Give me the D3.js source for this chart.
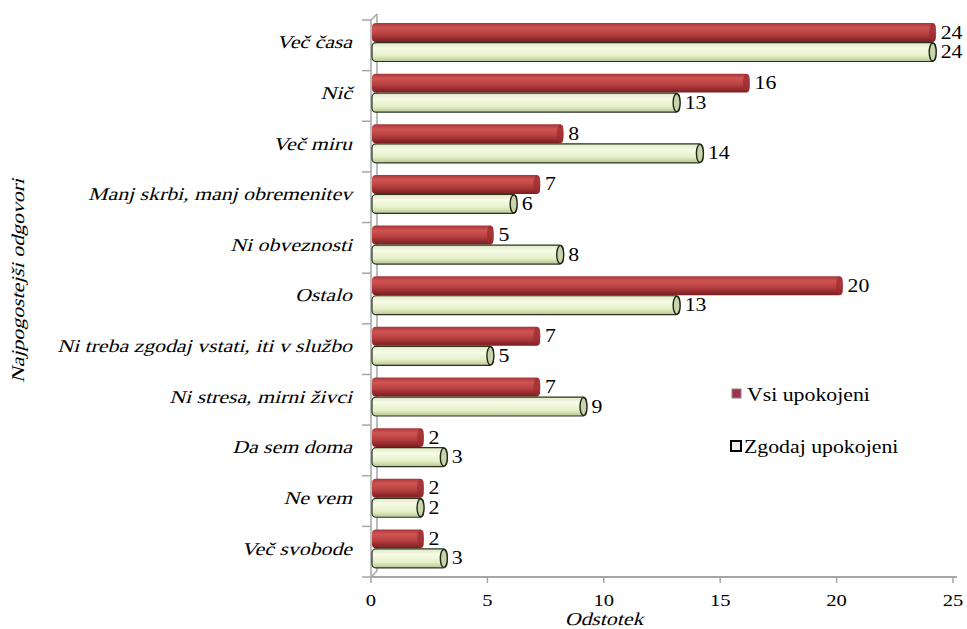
<!DOCTYPE html>
<html>
<head>
<meta charset="utf-8">
<script src="https://cdn.jsdelivr.net/npm/d3@7"></script>
</head>
<body style="margin:0">
<svg id="chart" width="967" height="629"></svg>
<script>
const categories = ['Več časa', 'Nič', 'Več miru', 'Manj skrbi, manj obremenitev', 'Ni obveznosti',
  'Ostalo', 'Ni treba zgodaj vstati, iti v službo', 'Ni stresa, mirni živci', 'Da sem doma',
  'Ne vem', 'Več svobode']
const vsi = [24, 16, 8, 7, 5, 20, 7, 7, 2, 2, 2]
const zgodaj = [24, 13, 14, 6, 8, 13, 5, 9, 3, 2, 3]
const seriesNames = ['Vsi upokojeni', 'Zgodaj upokojeni']
const xTicks = [0, 5, 10, 15, 20, 25]

const svg = d3.select('#chart')
const font = 'Liberation Serif'
const depth = 6

const x = d3.scaleLinear().domain([0, 25]).range([371, 953])
const y = d3.scaleBand().domain(categories).range([20, 577])
  .paddingInner(0.24).paddingOuter(0.12).align(0.25)
const ys = d3.scaleBand().domain(seriesNames).range([0, y.bandwidth()]).paddingInner(0.03)

// the source text is a bit wider than plain Times, measure once and stretch
const probe = svg.append('text').attr('font-family', font).attr('font-size', 18)
  .text('Manj skrbi, manj obremenitev')
let sx = 264 / probe.node().getComputedTextLength()
if (!isFinite(sx)) sx = 1.15
sx = Math.max(1, Math.min(1.3, sx))
probe.remove()

// italic is faked with a skew of the regular face
function txt(px, py, str, opts) {
  opts = opts || {}
  let tr = `translate(${px},${py})`
  if (opts.rotate) tr += ` rotate(${opts.rotate})`
  tr += ` scale(${sx},1)`
  if (opts.italic) tr += ' skewX(-13)'
  return svg.append('text').attr('font-family', font).attr('fill', '#000')
    .attr('font-size', opts.size || 18).attr('text-anchor', opts.anchor || 'start')
    .attr('transform', tr).text(str)
}

const defs = svg.append('defs')
function grad(id, stops) {
  const g = defs.append('linearGradient').attr('id', id)
    .attr('x1', 0).attr('y1', 0).attr('x2', 0).attr('y2', 1)
  stops.forEach(s => g.append('stop').attr('offset', s[0]).attr('stop-color', s[1]))
}
grad('red', [[0, '#a8353a'], [0.25, '#cf5552'], [0.6, '#b53f3f'], [1, '#7a1c20']])
grad('green', [[0, '#dfe9bf'], [0.3, '#f7fbe8'], [0.7, '#e6f0c6'], [1, '#b7c594']])

// axes (3d style)
const axisCol = '#a6a6a6'
const yTop = 20, yBot = 577
svg.append('line').attr('x1', x(0)).attr('x2', x(0)).attr('y1', yTop).attr('y2', yBot)
  .attr('stroke', axisCol).attr('stroke-width', 1.5)
svg.append('line').attr('x1', x(0) + depth).attr('x2', x(0) + depth).attr('y1', yTop - depth).attr('y2', yBot - depth)
  .attr('stroke', axisCol).attr('stroke-width', 1.5)
svg.append('line').attr('x1', x(0)).attr('x2', x(0) + depth).attr('y1', yTop).attr('y2', yTop - depth)
  .attr('stroke', axisCol).attr('stroke-width', 1.5)
svg.append('line').attr('x1', x(0)).attr('x2', x(0) + depth).attr('y1', yBot).attr('y2', yBot - depth)
  .attr('stroke', axisCol).attr('stroke-width', 1.5)
svg.append('line').attr('x1', x(0)).attr('x2', x(25) + 4).attr('y1', yBot).attr('y2', yBot)
  .attr('stroke', axisCol).attr('stroke-width', 2)

d3.range(categories.length + 1).forEach(i => {
  const ty = yTop + i * y.step()
  svg.append('line').attr('x1', x(0) - 9).attr('x2', x(0)).attr('y1', ty).attr('y2', ty)
    .attr('stroke', axisCol).attr('stroke-width', 1.5)
})

svg.selectAll('.xtick').data(xTicks).enter().append('line')
  .attr('x1', d => x(d)).attr('x2', d => x(d)).attr('y1', yBot).attr('y2', yBot + 6)
  .attr('stroke', axisCol).attr('stroke-width', 1.5)
xTicks.forEach(d => txt(x(d), 606, d, { anchor: 'middle', size: 17 }))

txt(604, 625, 'Odstotek', { anchor: 'middle', italic: true })
txt(24, 281, 'Najpogostejši odgovori', { anchor: 'middle', italic: true, rotate: -90 })

categories.forEach(c => {
  txt(352, y(c) + y.bandwidth() / 2 + 6, c, { anchor: 'end', italic: true })
})

// bars
const rows = categories.map((c, i) => ({ c, vals: [vsi[i], zgodaj[i]] }))
const bh = ys.bandwidth()

rows.forEach(r => {
  r.vals.forEach((v, k) => {
    const s = seriesNames[k]
    const by = y(r.c) + ys(s)
    const x0 = x(0) + 1, x1 = x(v) + depth
    const g = svg.append('g')
    if (k === 0) {
      g.append('rect').attr('x', x0).attr('y', by).attr('width', x1 - x0).attr('height', bh)
        .attr('rx', 4).attr('fill', 'url(#red)')
      g.append('ellipse').attr('cx', x1 - 3).attr('cy', by + bh / 2).attr('rx', 3.5).attr('ry', bh / 2)
        .attr('fill', '#9a2c30').attr('opacity', 0.7)
    } else {
      g.append('rect').attr('x', x0).attr('y', by).attr('width', x1 - x0).attr('height', bh)
        .attr('rx', 4).attr('fill', 'url(#green)').attr('stroke', '#2b3320').attr('stroke-width', 1.2)
      g.append('ellipse').attr('cx', x1 - 3).attr('cy', by + bh / 2).attr('rx', 3.5).attr('ry', bh / 2 - 0.5)
        .attr('fill', '#c9d4ab').attr('stroke', '#1e2416').attr('stroke-width', 1.4)
    }
    txt(x1 + 5, by + bh / 2 + 6, v)
  })
})

// legend
svg.append('rect').attr('x', 732).attr('y', 389).attr('width', 9).attr('height', 9)
  .attr('fill', '#a3304a').attr('stroke', '#888').attr('stroke-width', 1)
txt(747, 401, seriesNames[0])
svg.append('rect').attr('x', 731).attr('y', 441).attr('width', 10).attr('height', 10)
  .attr('fill', '#eeeeee').attr('stroke', '#000').attr('stroke-width', 2)
txt(744, 453, seriesNames[1])
</script>
</body>
</html>
